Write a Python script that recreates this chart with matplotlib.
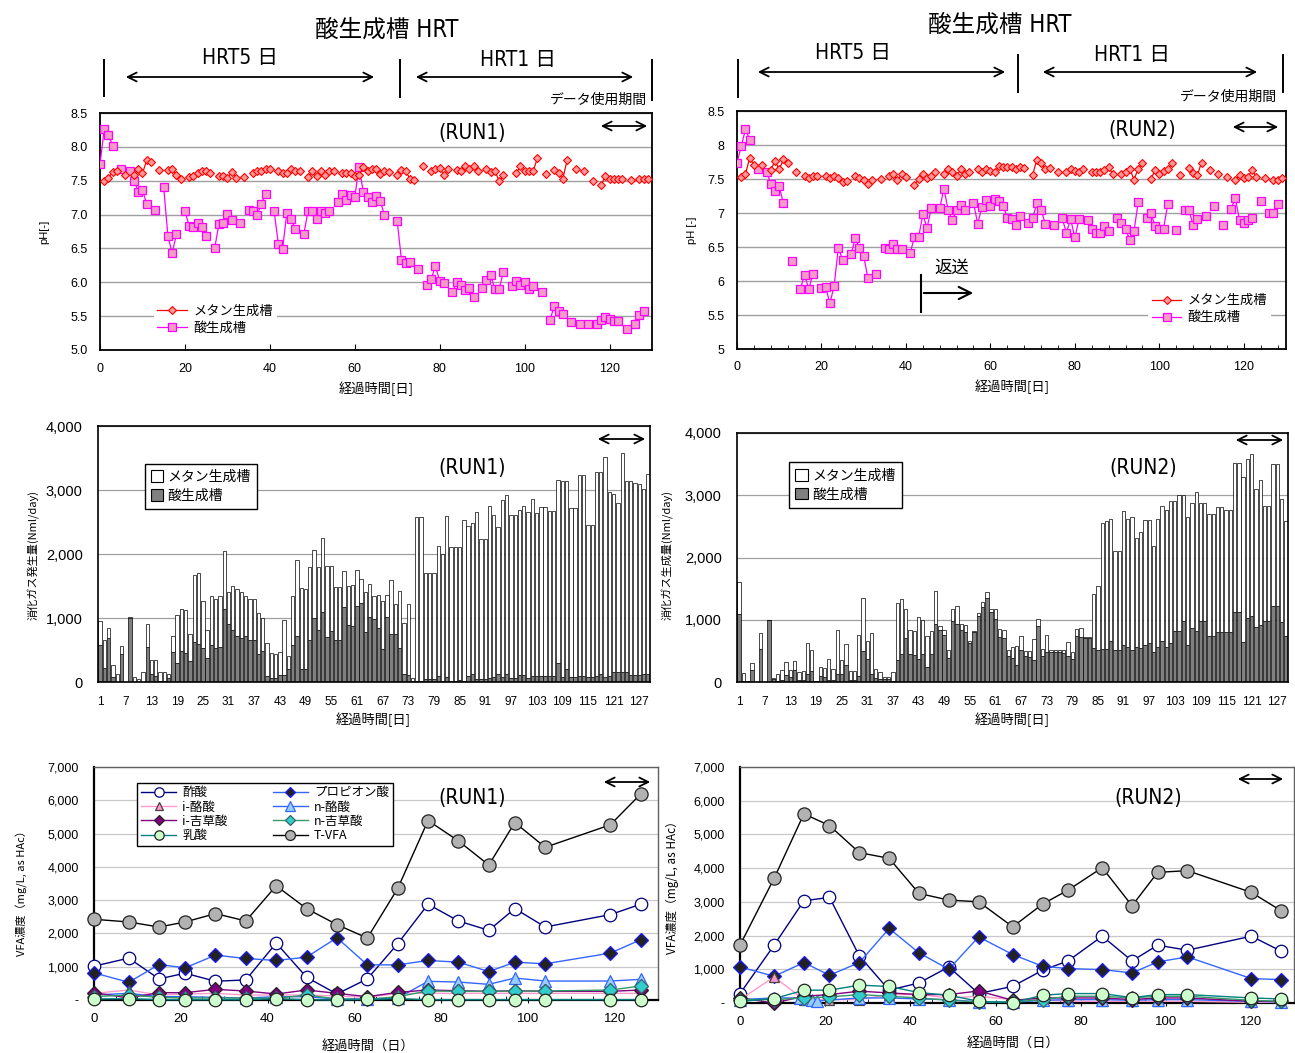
import numpy as np
import matplotlib
matplotlib.use('Agg')
import matplotlib.pyplot as plt
from matplotlib.lines import Line2D
from matplotlib.patches import FancyArrowPatch, Patch
from matplotlib.ticker import MultipleLocator, FuncFormatter

plt.rcParams['font.family'] = ['Liberation Sans', 'Noto Sans CJK JP']
JP = ['Noto Sans CJK JP', 'Liberation Sans']
NARROW = ['DejaVu Sans', 'Noto Sans CJK JP']

W, H = 1295, 1053

# ---- pH, RUN1 ----
ph1_met_days = [1, 2, 3, 4, 6, 8, 9, 10, 11, 12, 14, 16, 17, 18, 19, 21, 22, 23, 24, 25, 26, 28, 29, 30, 31, 32, 34,
                36, 37, 38, 39, 40, 42, 43, 44, 45, 46, 47, 49, 50, 51, 52, 53, 54, 55, 57, 58, 59, 60, 61, 62, 63,
                64, 65, 66, 67, 68, 70, 71, 72, 73, 74, 76, 78, 79, 80, 81, 82, 84, 85, 86, 87, 88, 89, 91, 92, 93,
                94, 95, 98, 99, 100, 101, 102, 103, 105, 107, 108, 109, 110, 112, 114, 116, 118, 119, 120, 121, 122,
                123, 125, 127, 128, 129]
ph1_met = [7.49, 7.54, 7.63, 7.64, 7.58, 7.58, 7.68, 7.61, 7.80, 7.78, 7.66, 7.66, 7.68, 7.58, 7.53, 7.56, 7.57, 7.61,
           7.64, 7.64, 7.61, 7.57, 7.57, 7.54, 7.63, 7.54, 7.56, 7.61, 7.64, 7.65, 7.68, 7.68, 7.64, 7.61, 7.61, 7.68,
           7.65, 7.64, 7.55, 7.64, 7.57, 7.64, 7.58, 7.64, 7.64, 7.62, 7.62, 7.62, 7.57, 7.58, 7.70, 7.65, 7.68, 7.68,
           7.60, 7.64, 7.63, 7.58, 7.66, 7.65, 7.52, 7.51, 7.71, 7.65, 7.67, 7.69, 7.58, 7.68, 7.66, 7.65, 7.71, 7.68,
           7.71, 7.65, 7.68, 7.63, 7.65, 7.49, 7.58, 7.61, 7.71, 7.65, 7.65, 7.64, 7.83, 7.60, 7.66, 7.61, 7.53, 7.80,
           7.68, 7.64, 7.49, 7.43, 7.57, 7.52, 7.52, 7.52, 7.52, 7.51, 7.53, 7.52, 7.52]
ph1_acid_days = [0, 1, 2, 3, 5, 7, 8, 9, 10, 11, 13, 15, 16, 17, 18, 20, 21, 22, 23, 24, 25, 27, 28, 29, 30, 31, 33,
                 35, 36, 37, 38, 39, 41, 42, 43, 44, 45, 46, 48, 49, 50, 51, 52, 53, 54, 56, 57, 58, 59, 60, 61, 62,
                 63, 64, 65, 66, 67, 70, 71, 72, 73, 75, 77, 78, 79, 80, 81, 83, 84, 85, 86, 87, 88, 90, 91, 92, 93,
                 94, 95, 97, 98, 99, 100, 101, 102, 104, 106, 107, 108, 109, 111, 113, 115, 117, 118, 119, 120, 121,
                 122, 124, 126, 127, 128]
ph1_acid = [7.74, 8.27, 8.18, 8.01, 7.68, 7.65, 7.50, 7.34, 7.36, 7.16, 7.07, 7.40, 6.68, 6.43, 6.71, 7.05, 6.83,
            6.81, 6.88, 6.81, 6.68, 6.50, 6.86, 6.87, 7.01, 6.92, 6.88, 7.07, 7.05, 6.99, 7.16, 7.31, 7.05, 6.57,
            6.49, 7.03, 6.94, 6.78, 6.71, 7.06, 7.05, 6.94, 7.06, 7.02, 7.05, 7.19, 7.30, 7.21, 7.29, 7.26, 7.70,
            7.34, 7.26, 7.19, 7.27, 7.20, 6.99, 6.90, 6.33, 6.28, 6.30, 6.19, 5.96, 6.05, 6.24, 6.02, 5.99, 5.85,
            6.01, 5.96, 5.88, 5.92, 5.79, 5.92, 6.04, 6.11, 5.90, 5.90, 6.15, 5.95, 6.02, 5.96, 6.01, 5.90, 5.95,
            5.85, 5.45, 5.65, 5.57, 5.53, 5.41, 5.38, 5.39, 5.38, 5.45, 5.49, 5.46, 5.43, 5.43, 5.31, 5.38, 5.51, 5.58]

# ---- pH, RUN2 ----
ph2_met_days = [1, 2, 3, 4, 6, 8, 9, 10, 11, 12, 14, 16, 17, 18, 19, 21, 22, 23, 24, 25, 26, 28, 29, 30, 31, 32, 34,
                36, 37, 38, 39, 40, 42, 43, 44, 45, 46, 47, 49, 50, 51, 52, 53, 54, 55, 57, 58, 59, 60, 61, 62, 63,
                64, 65, 66, 67, 68, 70, 71, 72, 73, 74, 76, 78, 79, 80, 81, 82, 84, 85, 86, 87, 88, 89, 91, 92, 93,
                94, 95, 96, 98, 99, 100, 101, 102, 103, 105, 107, 108, 109, 110, 112, 114, 116, 118, 119, 120, 121,
                122, 123, 125, 127, 128, 129]
ph2_met = [7.53, 7.57, 7.81, 7.71, 7.70, 7.63, 7.77, 7.64, 7.79, 7.74, 7.61, 7.55, 7.51, 7.54, 7.54, 7.54, 7.51, 7.54,
           7.51, 7.46, 7.47, 7.54, 7.51, 7.48, 7.42, 7.48, 7.50, 7.54, 7.57, 7.48, 7.57, 7.53, 7.41, 7.50, 7.58, 7.52,
           7.54, 7.61, 7.57, 7.65, 7.61, 7.55, 7.64, 7.57, 7.60, 7.65, 7.61, 7.64, 7.62, 7.60, 7.69, 7.68, 7.68, 7.68,
           7.65, 7.67, 7.66, 7.56, 7.78, 7.74, 7.64, 7.66, 7.60, 7.60, 7.65, 7.62, 7.61, 7.65, 7.60, 7.61, 7.61, 7.63,
           7.67, 7.57, 7.58, 7.61, 7.65, 7.49, 7.65, 7.73, 7.50, 7.63, 7.57, 7.62, 7.64, 7.73, 7.56, 7.66, 7.59, 7.56,
           7.74, 7.63, 7.57, 7.53, 7.49, 7.56, 7.51, 7.53, 7.63, 7.53, 7.52, 7.49, 7.49, 7.51]
ph2_acid_days = [0, 1, 2, 3, 5, 7, 8, 9, 10, 11, 13, 15, 16, 17, 18, 20, 21, 22, 23, 24, 25, 27, 28, 29, 30, 31, 33,
                 35, 36, 37, 38, 39, 41, 42, 43, 44, 45, 46, 48, 49, 50, 51, 52, 53, 54, 56, 57, 58, 59, 60, 61, 62,
                 63, 64, 65, 66, 67, 69, 70, 71, 72, 73, 75, 77, 78, 79, 80, 81, 83, 84, 85, 86, 87, 88, 90, 91, 92,
                 93, 94, 95, 97, 98, 99, 100, 101, 102, 104, 106, 107, 108, 109, 111, 113, 115, 117, 118, 119, 120,
                 121, 122, 124, 126, 127, 128]
ph2_acid = [7.74, 7.98, 8.23, 8.08, 7.65, 7.61, 7.43, 7.32, 7.39, 7.14, 6.29, 5.88, 6.09, 5.88, 6.11, 5.89, 5.91,
            5.67, 5.93, 6.49, 6.31, 6.39, 6.63, 6.48, 6.37, 6.04, 6.10, 6.48, 6.47, 6.55, 6.47, 6.47, 6.41, 6.64,
            6.64, 6.98, 6.78, 7.07, 7.07, 7.36, 7.04, 6.89, 7.05, 7.12, 7.05, 7.15, 6.84, 7.09, 7.19, 7.10, 7.21,
            7.17, 7.11, 6.93, 6.91, 6.82, 6.95, 6.86, 6.93, 7.14, 7.05, 6.84, 6.82, 6.92, 6.71, 6.91, 6.64, 6.91,
            6.89, 6.76, 6.71, 6.71, 6.81, 6.73, 6.92, 6.85, 6.76, 6.61, 6.73, 7.16, 6.92, 7.00, 6.81, 6.77, 6.77,
            7.13, 6.75, 7.04, 7.04, 6.83, 6.91, 6.95, 7.10, 6.82, 7.06, 7.22, 6.89, 6.86, 6.89, 6.93, 7.18, 7.00,
            7.00, 7.13]

# ---- daily gas production (Nml/day), days 1..129 ----
gas_days = list(range(1, 130))
gas1_total = [947, 661, 843, 270, 130, 567, 0, 1014, 80, 40, 150, 910, 345, 345, 160, 160, 120, 725, 1050, 1140,
              1120, 750, 1670, 1710, 1270, 820, 1350, 1300, 1350, 2050, 1400, 1500, 1460, 1400, 1350, 1290, 1300,
              1080, 1000, 610, 450, 440, 470, 970, 400, 1350, 1910, 1470, 1450, 1800, 2060, 1800, 2250, 1820, 1810,
              1480, 1480, 1740, 1500, 1520, 1750, 1610, 1410, 1530, 1350, 1360, 1260, 1360, 1600, 1220, 1420, 920,
              1220, 60, 2580, 2580, 1700, 1700, 1700, 2126, 2000, 2594, 2105, 2105, 2105, 2531, 2438, 2479, 2661,
              2235, 2235, 2750, 2609, 2417, 2843, 2921, 2609, 2609, 2687, 2750, 2661, 2859, 2646, 2729, 2729, 2672,
              2672, 3155, 3140, 3140, 2724, 2724, 3233, 3233, 2453, 2453, 3274, 3274, 3519, 2973, 2937, 2802, 3581,
              3140, 3140, 3110, 3100, 3020, 3250]
gas1_acid = [583, 218, 687, 78, 0, 442, 0, 1000, 0, 0, 0, 545, 125, 100, 10, 10, 70, 465, 290, 490, 450, 330, 630,
             590, 530, 380, 580, 530, 545, 1140, 900, 820, 720, 680, 720, 660, 650, 440, 480, 90, 60, 60, 110, 110,
             200, 580, 720, 210, 200, 660, 1000, 820, 1100, 710, 800, 660, 660, 1170, 890, 880, 1180, 1240, 780,
             1020, 980, 840, 515, 1010, 750, 750, 530, 120, 110, 10, 10, 10, 50, 50, 50, 90, 20, 80, 20, 20, 30,
             20, 100, 120, 50, 50, 50, 60, 80, 120, 80, 120, 70, 70, 110, 110, 60, 90, 90, 100, 100, 100, 100, 300,
             80, 200, 80, 80, 90, 90, 80, 80, 90, 130, 80, 90, 150, 150, 150, 150, 110, 110, 110, 120, 120]
gas2_total = [1600, 150, 20, 300, 0, 795, 0, 1004, 70, 124, 199, 322, 199, 338, 161, 177, 628, 521, 20, 242, 231,
              365, 215, 843, 360, 607, 177, 177, 762, 1342, 660, 790, 215, 161, 80, 80, 161, 1262, 1326, 1165, 843,
              816, 1047, 1004, 736, 820, 1466, 897, 843, 510, 1165, 1219, 929, 913, 655, 816, 1111, 1290, 1440,
              1170, 1170, 850, 830, 510, 570, 585, 745, 495, 500, 697, 1010, 527, 750, 520, 520, 520, 520, 640, 480,
              856, 867, 720, 720, 1410, 1548, 2553, 2580, 2612, 2106, 2106, 2739, 2622, 2650, 2314, 2410, 2596,
              2596, 2180, 2622, 2835, 2771, 2904, 2915, 3005, 3005, 2649, 2878, 3048, 2872, 2872, 2702, 2702, 2819,
              2819, 2760, 2760, 3511, 3511, 3300, 3580, 3660, 3100, 3250, 2835, 2835, 3500, 3500, 2940, 2580]
gas2_acid = [1100, 10, 0, 185, 0, 537, 0, 990, 50, 10, 30, 107, 80, 199, 40, 40, 134, 177, 10, 91, 80, 30, 30, 134,
             134, 268, 30, 30, 91, 494, 376, 124, 60, 50, 50, 50, 20, 349, 456, 714, 456, 430, 376, 456, 242, 456,
             929, 843, 752, 392, 977, 929, 843, 805, 628, 800, 1058, 1200, 1350, 1130, 1010, 718, 707, 415, 378,
             266, 510, 410, 400, 356, 904, 425, 484, 480, 480, 480, 470, 410, 370, 745, 729, 700, 700, 548, 521,
             532, 537, 654, 516, 516, 600, 560, 520, 560, 540, 600, 620, 480, 560, 660, 560, 620, 814, 814, 973,
             600, 867, 824, 984, 984, 745, 745, 798, 798, 798, 798, 1117, 1117, 638, 1027, 1053, 883, 920, 973,
             973, 1223, 1223, 957, 734]

# ---- VFA (mg/L as HAc) ----
vfa_names = ['酢酸', 'プロピオン酸', 'i-酪酸', 'n-酪酸', 'i-吉草酸', 'n-吉草酸', '乳酸', 'T-VFA']
vfa1_days = [0, 8, 15, 21, 28, 35, 42, 49, 56, 63, 70, 77, 84, 91, 97, 104, 119, 126]
vfa1 = {
    '酢酸': [1016, 1258, 634, 805, 563, 604, 1710, 684, 180, 634, 1690, 2877, 2374, 2093, 2746, 2193, 2565, 2877],
    'プロピオン酸': [815, 533, 1066, 966, 1348, 1247, 1187, 1288, 1871, 1056, 1056, 1187, 1137, 855, 1137, 1087, 1408, 1811],
    'i-酪酸': [200, 300, 150, 180, 200, 150, 150, 150, 120, 80, 200, 200, 200, 200, 200, 200, 200, 200],
    'n-酪酸': [150, 200, 100, 100, 80, 60, 100, 100, 30, 30, 60, 560, 540, 470, 660, 570, 570, 620],
    'i-吉草酸': [220, 60, 220, 220, 320, 270, 180, 300, 200, 100, 230, 300, 280, 260, 280, 260, 260, 300],
    'n-吉草酸': [100, 150, 80, 60, 60, 60, 50, 150, 30, 20, 100, 270, 260, 260, 270, 270, 300, 420],
    '乳酸': [30, 40, 10, 10, 10, 10, 40, 10, 0, 20, 40, 10, 10, 10, 10, 10, 10, 10],
    'T-VFA': [2425, 2344, 2193, 2344, 2596, 2374, 3431, 2746, 2264, 1861, 3350, 5392, 4779, 4054, 5332, 4588, 5262, 6187],
}
vfa2_days = [0, 8, 15, 21, 28, 35, 42, 49, 56, 64, 71, 77, 85, 92, 98, 105, 120, 127]
vfa2_nbut_days = [0, 8, 14, 16, 17, 18, 28, 35, 42, 49, 56, 64, 71, 77, 85, 92, 98, 105, 120, 127]
vfa2 = {
    '酢酸': [277, 1715, 3033, 3132, 1397, 380, 595, 1070, 280, 495, 971, 1249, 1982, 1249, 1715, 1566, 1982, 1536],
    'プロピオン酸': [1070, 793, 1199, 823, 1199, 2210, 1487, 1001, 1962, 1437, 1090, 1021, 991, 892, 1219, 1368, 723, 694],
    'i-酪酸': [100, 773, 100, 100, 100, 250, 250, 150, 200, 100, 100, 50, 50, 50, 50, 50, 20, 20],
    'n-酪酸': [100, 150, 150, 130, 80, 60, 150, 150, 120, 100, 30, 20, 80, 100, 100, 80, 100, 100, 50, 30],
    'i-吉草酸': [150, 0, 200, 250, 350, 300, 250, 250, 357, 80, 150, 150, 150, 100, 150, 150, 50, 50],
    'n-吉草酸': [100, 100, 150, 180, 250, 200, 150, 80, 30, 30, 100, 200, 200, 150, 200, 200, 80, 50],
    '乳酸': [50, 130, 380, 380, 530, 490, 310, 230, 50, 10, 230, 280, 280, 160, 250, 250, 150, 120],
    'T-VFA': [1715, 3697, 5610, 5263, 4460, 4291, 3250, 3052, 3003, 2260, 2934, 3350, 4014, 2884, 3875, 3925, 3280, 2735],
}

# line colour, marker, marker face, marker edge, marker size
vfa_style = {
    '酢酸': ('#000080', 'o', 'white', '#000080', 9),
    'プロピオン酸': ('#3366FF', 'D', '#222222', '#1a1aff', 7),
    'i-酪酸': ('#FF99CC', '^', '#FF99CC', '#444444', 7),
    'n-酪酸': ('#3366FF', '^', '#99CCFF', '#3366FF', 9),
    'i-吉草酸': ('#800080', 'D', '#800080', '#222222', 7),
    'n-吉草酸': ('#339966', 'D', '#33CCCC', '#336666', 7),
    '乳酸': ('#008080', 'o', '#CCFFCC', '#222222', 9),
    'T-VFA': ('#000000', 'o', '#B2B2B2', '#222222', 9.5),
}


def add_ax(l, t, r, b):
    # axes placed by pixel box (left, top, right, bottom)
    return fig.add_axes([l / W, 1 - b / H, (r - l) / W, (b - t) / H])


def ftext(x, y, s, **kw):
    fig.text(x / W, 1 - y / H, s, **kw)


def fline(x0, y0, x1, y1, lw=1.4):
    fig.add_artist(Line2D([x0 / W, x1 / W], [1 - y0 / H, 1 - y1 / H], transform=fig.transFigure, color='k', lw=lw))


def farrow(x0, x1, y, style='<->', ms=16, lw=1.3):
    fig.add_artist(FancyArrowPatch((x0 / W, 1 - y / H), (x1 / W, 1 - y / H), transform=fig.transFigure,
                                   arrowstyle=style, mutation_scale=ms, lw=lw, color='k'))


def broken(days, vals):
    # break the line wherever a day is missing
    d = np.asarray(days, float)
    v = np.asarray(vals, float)
    gaps = np.where(np.diff(d) > 1)[0] + 1
    return np.insert(d, gaps, np.nan), np.insert(v, gaps, np.nan)


def ph_panel(ax, met_days, met, acid_days, acid, fmt, minor):
    x, y = broken(met_days, met)
    ax.plot(x, y, color='#FF0000', lw=0.9, marker='D', ms=4.2, mfc='#FF9999', mec='#FF0000', mew=0.8,
            label='メタン生成槽', zorder=4)
    x, y = broken(acid_days, acid)
    ax.plot(x, y, color='#FF00FF', lw=0.9, marker='s', ms=6, mfc='#F59BC8', mec='#FF00FF', mew=0.9,
            label='酸生成槽', zorder=3)
    ax.set_xlim(0, 130)
    ax.set_ylim(5, 8.5)
    ax.yaxis.set_major_locator(MultipleLocator(0.5))
    ax.yaxis.set_major_formatter(FuncFormatter(fmt))
    ax.xaxis.set_major_locator(MultipleLocator(20))
    if minor:
        ax.xaxis.set_minor_locator(MultipleLocator(4))
        ax.tick_params(axis='x', which='minor', direction='in', length=3)
    ax.tick_params(axis='x', direction='in', length=4, pad=9, labelsize=9)
    ax.tick_params(axis='y', length=0, pad=9, labelsize=9)
    ax.grid(axis='y', color='#A0A0A0', lw=1)
    for s in ax.spines.values():
        s.set_linewidth(1.3)


def gas_panel(ax, total, acid):
    days = np.array(gas_days)
    acid = np.array(acid)
    met = np.clip(np.array(total) - acid, 0, None)
    ax.bar(days, acid, width=0.78, color='#808080', edgecolor='k', lw=0.5, label='酸生成槽', zorder=2)
    ax.bar(days, met, width=0.78, bottom=acid, color='white', edgecolor='k', lw=0.5, label='メタン生成槽', zorder=2)
    ax.set_xlim(0.5, 129.5)
    ax.set_ylim(0, 4000)
    ax.set_xticks(range(1, 130, 6))
    ax.yaxis.set_major_locator(MultipleLocator(1000))
    ax.yaxis.set_major_formatter(FuncFormatter(lambda v, p: '{:,.0f}'.format(v)))
    ax.tick_params(axis='x', length=0, pad=10, labelsize=8.5)
    ax.tick_params(axis='y', length=0, pad=11, labelsize=10.5)
    ax.grid(axis='y', color='#A0A0A0', lw=0.9, zorder=0)
    ax.set_axisbelow(True)
    for s in ax.spines.values():
        s.set_linewidth(1.2)
    h = [Patch(facecolor='white', edgecolor='k', lw=0.8), Patch(facecolor='#808080', edgecolor='k', lw=0.8)]
    return h


def vfa_panel(ax, days, data, nbut_days=None):
    handles = {}
    for name in vfa_names:
        c, m, fc, ec, ms = vfa_style[name]
        d = nbut_days if (name == 'n-酪酸' and nbut_days is not None) else days
        ln, = ax.plot(d, data[name], color=c, lw=1, marker=m, ms=ms, mfc=fc, mec=ec, mew=0.9,
                      label=name, clip_on=False, zorder=3)
        handles[name] = ln
    ax.set_xlim(0, 130)
    ax.set_ylim(0, 7000)
    ax.xaxis.set_major_locator(MultipleLocator(20))
    ax.xaxis.set_minor_locator(MultipleLocator(5))
    ax.yaxis.set_major_locator(MultipleLocator(1000))
    ax.yaxis.set_major_formatter(FuncFormatter(lambda v, p: '-' if v == 0 else '{:,.0f}'.format(v)))
    ax.tick_params(axis='x', which='major', direction='inout', length=5, pad=7, labelsize=9.5)
    ax.tick_params(axis='x', which='minor', direction='in', length=3)
    ax.tick_params(axis='y', length=0, pad=11, labelsize=9)
    ax.grid(axis='y', color='#C8C8C8', lw=0.9, zorder=0)
    ax.set_axisbelow(True)
    for k in ('left', 'bottom'):
        ax.spines[k].set_linewidth(1.6)
    for k in ('top', 'right'):
        ax.spines[k].set_linewidth(1.0)
        ax.spines[k].set_color('#606060')
    return handles


fig = plt.figure(figsize=(W / 100, H / 100), dpi=100)

# ---- pH panels ----
ax1 = add_ax(100, 113, 652, 350)
ph_panel(ax1, ph1_met_days, ph1_met, ph1_acid_days, ph1_acid, lambda v, p: '%.1f' % v, False)
ax1.legend(loc='lower left', bbox_to_anchor=(0.085, 0.02), prop={'family': JP, 'size': 9.5},
           handlelength=2.2, handletextpad=0.5, labelspacing=0.3, framealpha=1, edgecolor='none', borderpad=0.3)

ax2 = add_ax(737, 111, 1286, 349)
ph_panel(ax2, ph2_met_days, ph2_met, ph2_acid_days, ph2_acid, lambda v, p: '%g' % v, True)
ax2.legend(loc='lower right', bbox_to_anchor=(0.985, 0.06), prop={'family': JP, 'size': 9.5},
           handlelength=2.2, handletextpad=0.5, labelspacing=0.3, framealpha=1, edgecolor='none', borderpad=0.3)

# ---- gas production panels ----
ax3 = add_ax(98, 426, 650, 682)
h = gas_panel(ax3, gas1_total, gas1_acid)
ax3.legend(h, ['メタン生成槽', '酸生成槽'], loc='upper left', bbox_to_anchor=(0.072, 0.88),
           prop={'family': JP, 'size': 10}, handlelength=0.9, handleheight=0.9, handletextpad=0.3,
           labelspacing=0.35, fancybox=False, edgecolor='k', framealpha=1, borderpad=0.45)

ax4 = add_ax(737, 433, 1288, 682)
h = gas_panel(ax4, gas2_total, gas2_acid)
ax4.legend(h, ['メタン生成槽', '酸生成槽'], loc='upper left', bbox_to_anchor=(0.082, 0.91),
           prop={'family': JP, 'size': 10}, handlelength=0.9, handleheight=0.9, handletextpad=0.3,
           labelspacing=0.35, fancybox=False, edgecolor='k', framealpha=1, borderpad=0.45)

# ---- VFA panels ----
ax5 = add_ax(94, 767, 658, 1000)
hd = vfa_panel(ax5, vfa1_days, vfa1)
order = ['酢酸', 'i-酪酸', 'i-吉草酸', '乳酸', 'プロピオン酸', 'n-酪酸', 'n-吉草酸', 'T-VFA']
ax5.legend([hd[k] for k in order], order, ncol=2, loc='upper left', bbox_to_anchor=(0.066, 0.96),
           prop={'family': JP, 'size': 9}, handlelength=2.8, handletextpad=0.5, labelspacing=0.1,
           columnspacing=3.6, fancybox=False, edgecolor='k', framealpha=1, borderpad=0.3, markerscale=0.75)

ax6 = add_ax(740, 767, 1294, 1003)
vfa_panel(ax6, vfa2_days, vfa2, vfa2_nbut_days)

# ---- axis titles ----
ftext(44, 232, 'pH[-]', rotation=90, ha='center', va='center', fontsize=8)
ftext(692, 230, 'pH [-]', rotation=90, ha='center', va='center', fontsize=8)
ftext(34, 555, '消化ガス発生量(Nml/day)', rotation=90, ha='center', va='center', fontsize=8, family=JP)
ftext(668, 555, '消化ガス生成量(Nml/day)', rotation=90, ha='center', va='center', fontsize=8, family=JP)
ftext(22, 890, 'VFA濃度（mg/L, as HAc）', rotation=90, ha='center', va='center', fontsize=8, family=JP)
ftext(672, 885, 'VFA濃度（mg/L, as HAc）', rotation=90, ha='center', va='center', fontsize=8.5, family=JP)
for x, y, s in [(376, 389, '経過時間[日]'), (1012, 387, '経過時間[日]'), (373, 720, '経過時間[日]'),
                (1012, 720, '経過時間[日]'), (368, 1046, '経過時間（日）'), (1013, 1043, '経過時間（日）')]:
    ftext(x, y, s, ha='center', va='center', fontsize=9.5, family=JP)

# ---- run labels ----
for x, y, s in [(472, 133, '(RUN1)'), (472, 468, '(RUN1)'), (472, 798, '(RUN1)'),
                (1142, 130, '(RUN2)'), (1143, 468, '(RUN2)'), (1148, 798, '(RUN2)')]:
    ftext(x, y, s, ha='center', va='center', fontsize=15, family=NARROW, fontstretch='condensed')

# data period arrows inside the panels
for x0, x1, y in [(598, 650, 126), (1230, 1281, 127), (595, 648, 439), (1233, 1286, 440),
                  (601, 653, 782), (1235, 1286, 779)]:
    farrow(x0, x1, y)

# ---- HRT headers ----
ftext(387, 30, '酸生成槽 HRT', ha='center', va='center', fontsize=17, family=NARROW, fontstretch='condensed')
ftext(240, 58, 'HRT5 日', ha='center', va='center', fontsize=15, family=NARROW, fontstretch='condensed')
ftext(518, 60, 'HRT1 日', ha='center', va='center', fontsize=15, family=NARROW, fontstretch='condensed')
fline(104, 60, 104, 96)
fline(400, 60, 400, 97)
fline(652, 60, 652, 100)
farrow(123, 377, 77)
farrow(413, 636, 77)
ftext(647, 100, 'データ使用期間', ha='right', va='center', fontsize=10, family=JP)

ftext(1000, 25, '酸生成槽 HRT', ha='center', va='center', fontsize=17, family=NARROW, fontstretch='condensed')
ftext(853, 53, 'HRT5 日', ha='center', va='center', fontsize=15, family=NARROW, fontstretch='condensed')
ftext(1132, 55, 'HRT1 日', ha='center', va='center', fontsize=15, family=NARROW, fontstretch='condensed')
fline(738, 60, 738, 97)
fline(1018, 55, 1018, 92)
fline(1283, 55, 1283, 92)
farrow(755, 1008, 72)
farrow(1040, 1260, 72)
ftext(1277, 97, 'データ使用期間', ha='right', va='center', fontsize=10, family=JP)

# return flow marker in RUN2 pH panel
ftext(952, 268, '返送', ha='center', va='center', fontsize=12.5, family=JP)
fline(921, 275, 921, 312, lw=1.5)
farrow(921, 976, 293, style='->', ms=22, lw=1.5)

fig.savefig('out.png', dpi=100)
